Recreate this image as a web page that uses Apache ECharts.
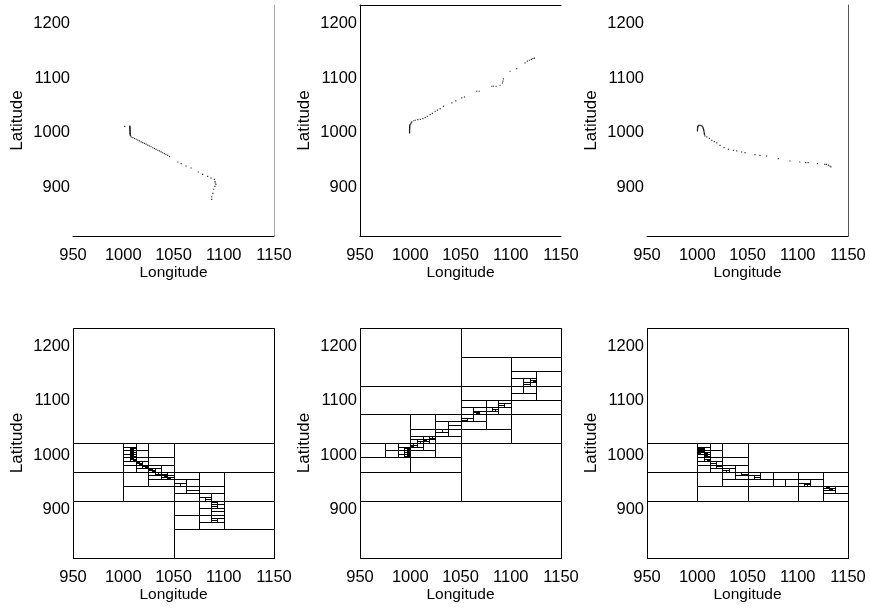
<!DOCTYPE html>
<html>
<head>
<meta charset="utf-8">
<script src="https://cdn.jsdelivr.net/npm/echarts@6/dist/echarts.min.js"></script>
<style>
  html, body { margin: 0; padding: 0; background: #fff; }
  #chart { width: 870px; height: 608px; }
</style>
</head>
<body>
<div id="chart"></div>
<script>
// Axis extents and tick labels
const lonRange = [950, 1150];
const latRange = [811.7, 1233.3];
const lonTicks = [950, 1000, 1050, 1100, 1150];
const latTicks = [900, 1000, 1100, 1200];

// Trajectory A: idles near the start, heads south-east, ends with a southward leg
const trackA = [
  [1001.5, 1011.9], [1006.5, 1012.5], [1006.5, 1011.5], [1006.6, 1010.5], [1006.6, 1009.5],
  [1006.6, 1008.5], [1006.6, 1007.5], [1006.7, 1006.5], [1006.7, 1005.5], [1006.7, 1004.5],
  [1006.7, 1003.5], [1006.8, 1002.5], [1006.8, 1001.5], [1006.8, 1000.5], [1006.8, 999.5],
  [1006.9, 998.5], [1006.9, 997.5], [1007.0, 996.5], [1007.0, 995.5], [1007.4, 994.2],
  [1008.0, 992.4], [1009.6, 991.2], [1011.2, 989.7], [1012.9, 988.3], [1014.5, 986.8],
  [1016.1, 985.4], [1017.8, 983.6], [1019.4, 982.1], [1021.1, 980.6], [1022.7, 979.3],
  [1024.4, 977.5], [1026.0, 976.0], [1027.7, 974.6], [1029.3, 972.8], [1031.0, 971.4],
  [1032.6, 969.9], [1034.3, 968.2], [1035.9, 966.9], [1037.6, 965.3], [1039.2, 963.6],
  [1040.9, 962.2], [1042.5, 960.5], [1044.2, 959.0], [1046.0, 956.8], [1054.3, 946.8],
  [1057.6, 943.7], [1062.5, 939.5], [1067.5, 935.8], [1074.7, 928.5], [1079.0, 924.2],
  [1084.0, 920.6], [1087.3, 917.5], [1090.6, 915.0], [1091.3, 911.0], [1091.6, 908.4],
  [1092.2, 906.0], [1091.2, 902.3], [1090.0, 897.0], [1089.2, 889.5], [1088.0, 883.0],
  [1088.0, 878.6]
];

// Trajectory B: heads north-east
const trackB = [
  [999.3, 999.8], [999.3, 1001.0], [999.3, 1002.2], [999.3, 1003.5], [999.3, 1004.8],
  [999.3, 1006.0], [999.4, 1007.2], [999.4, 1008.5], [999.4, 1009.8], [999.4, 1011.0],
  [999.5, 1012.3], [999.5, 1013.5], [999.8, 1015.0], [1000.5, 1016.5], [1001.0, 1018.2],
  [1001.6, 1019.9], [1003.5, 1022.0], [1005.0, 1023.0], [1007.5, 1024.0], [1010.0, 1024.7],
  [1012.5, 1026.0], [1014.9, 1027.8], [1017.0, 1030.0], [1019.8, 1033.2], [1022.0, 1035.5],
  [1024.8, 1039.3], [1027.0, 1041.5], [1029.8, 1044.2], [1033.0, 1048.5], [1041.4, 1054.6],
  [1045.3, 1058.2], [1051.3, 1063.7], [1054.0, 1065.5], [1066.2, 1075.9], [1068.5, 1075.9],
  [1081.1, 1085.0], [1082.7, 1085.0], [1085.4, 1085.0], [1089.4, 1086.8], [1091.7, 1091.0],
  [1092.2, 1094.5], [1092.7, 1098.4], [1099.3, 1112.4], [1106.0, 1117.3], [1114.2, 1127.6],
  [1116.5, 1130.7], [1118.5, 1132.5], [1120.5, 1134.0], [1122.0, 1135.5], [1123.5, 1136.5]
];

// Trajectory C: small hook, then heads east
const trackC = [
  [1000.2, 1003.4], [1000.2, 1004.7], [1000.2, 1006.0], [1000.3, 1007.5], [1000.3, 1009.0],
  [1000.5, 1010.3], [1000.6, 1011.5], [1001.0, 1012.6], [1001.5, 1013.5], [1002.5, 1013.8],
  [1003.5, 1013.5], [1004.4, 1012.8], [1005.0, 1012.0], [1005.5, 1010.5], [1005.8, 1009.0],
  [1006.1, 1007.5], [1006.3, 1006.0], [1006.5, 1004.5], [1006.6, 1003.0], [1006.8, 1001.5],
  [1007.0, 1000.0], [1007.1, 998.5], [1007.2, 997.0], [1007.5, 994.5], [1009.5, 992.5],
  [1012.0, 990.0], [1014.5, 986.4], [1017.0, 984.0], [1019.4, 981.5], [1022.7, 977.2],
  [1026.7, 973.0], [1031.0, 970.0], [1036.0, 968.0], [1039.3, 966.9], [1044.2, 965.0],
  [1047.5, 963.8], [1057.4, 960.2], [1062.4, 958.9], [1069.0, 957.7], [1080.6, 953.0],
  [1092.2, 948.6], [1102.0, 946.8], [1108.0, 945.6], [1110.3, 945.6], [1119.6, 943.7],
  [1126.9, 942.5], [1128.5, 942.5], [1130.5, 941.0], [1132.0, 939.5], [1133.0, 938.0]
];

const tracks = [trackA, trackB, trackC];

// Midpoint k-d partition: a cell holding more than one fix is halved
// across its longer side; every visited cell is outlined.
const MAX_DEPTH = 16;
function partition(points, x0, x1, y0, y1, depth, out) {
  out.push([x0, y0, x1, y1]);
  if (points.length <= 1 || depth >= MAX_DEPTH) return;
  if (x1 - x0 >= y1 - y0) {
    const xm = (x0 + x1) / 2;
    partition(points.filter(p => p[0] < xm), x0, xm, y0, y1, depth + 1, out);
    partition(points.filter(p => p[0] >= xm), xm, x1, y0, y1, depth + 1, out);
  } else {
    const ym = (y0 + y1) / 2;
    partition(points.filter(p => p[1] < ym), x0, x1, y0, ym, depth + 1, out);
    partition(points.filter(p => p[1] >= ym), x0, x1, ym, y1, depth + 1, out);
  }
}
function cellsFor(track) {
  const out = [];
  partition(track, lonRange[0], lonRange[1], latRange[0], latRange[1], 0, out);
  return out;
}

const FONT = 'Liberation Sans, Arial, sans-serif';
const colLeft = [73, 360, 647];
const rowTop = [5, 328];
const panelW = 201;
const panelH = [231, 230];
const plain = v => String(v);

const grids = [], xAxes = [], yAxes = [], series = [];
// Extra edge lines of the upper panels
const upperEdges = [
  { right: '#a8a8a8', top: null, left: null },
  { right: null, top: '#000', left: '#000' },
  { right: '#555', top: null, left: null }
];

function crisp(v) { return Math.round(v) + 0.5; }

for (let row = 0; row < 2; row++) {
  for (let col = 0; col < 3; col++) {
    const g = grids.length;
    grids.push({ left: colLeft[col], top: rowTop[row], width: panelW, height: panelH[row] });
    xAxes.push({
      gridIndex: g, type: 'value', min: lonRange[0], max: lonRange[1], interval: 50,
      name: 'Longitude', nameLocation: 'middle', nameGap: 28,
      nameTextStyle: { fontFamily: FONT, fontSize: 15.5, color: '#000' },
      axisLine: { show: row === 0, lineStyle: { color: '#000', width: 1 } },
      axisTick: { show: false }, splitLine: { show: false },
      axisLabel: { fontFamily: FONT, fontSize: 16.5, color: '#000', margin: 11, formatter: plain }
    });
    yAxes.push({
      gridIndex: g, type: 'value', min: latRange[0], max: latRange[1],
      name: 'Latitude', nameLocation: 'middle', nameGap: 47, nameRotate: 90,
      nameTextStyle: { fontFamily: FONT, fontSize: 17, color: '#000' },
      axisLine: { show: row === 0 && !!upperEdges[col].left, lineStyle: { color: '#000', width: 1 } },
      axisTick: { show: false }, splitLine: { show: false },
      axisLabel: { fontFamily: FONT, fontSize: 16.5, color: '#000', margin: 3,
                   customValues: latTicks, formatter: plain }
    });
  }
}

// Edge lines on the upper panels drawn as label-less secondary axes
for (let col = 0; col < 3; col++) {
  const e = upperEdges[col];
  if (e.right) {
    yAxes.push({
      gridIndex: col, type: 'value', position: 'right', min: latRange[0], max: latRange[1],
      axisLine: { show: true, lineStyle: { color: e.right, width: 1 } },
      axisTick: { show: false }, axisLabel: { show: false }, splitLine: { show: false }
    });
  }
  if (e.top) {
    xAxes.push({
      gridIndex: col, type: 'value', position: 'top', min: lonRange[0], max: lonRange[1],
      axisLine: { show: true, lineStyle: { color: e.top, width: 1 } },
      axisTick: { show: false }, axisLabel: { show: false }, splitLine: { show: false }
    });
  }
}

// Upper row: raw position fixes
tracks.forEach((track, i) => {
  series.push({
    type: 'scatter', xAxisIndex: i, yAxisIndex: i, data: track,
    symbol: 'rect', symbolSize: 1.2, itemStyle: { color: '#000' },
    silent: true, animation: false
  });
});

// Lower row: partition cells of each trajectory
tracks.forEach((track, i) => {
  const g = i + 3;
  series.push({
    type: 'custom', xAxisIndex: g, yAxisIndex: g, data: cellsFor(track),
    silent: true, animation: false, progressive: 0, clip: false,
    renderItem: function (params, api) {
      const a = api.coord([api.value(0), api.value(3)]);
      const b = api.coord([api.value(2), api.value(1)]);
      const x = crisp(a[0]), y = crisp(a[1]);
      return {
        type: 'rect',
        shape: { x: x, y: y, width: crisp(b[0]) - x, height: crisp(b[1]) - y },
        style: { fill: null, stroke: '#000', lineWidth: 1 }
      };
    }
  });
});

const chart = echarts.init(document.getElementById('chart'), null, { renderer: 'canvas' });
chart.setOption({
  animation: false,
  backgroundColor: '#fff',
  textStyle: { fontFamily: FONT },
  grid: grids, xAxis: xAxes, yAxis: yAxes, series: series
});
</script>
</body>
</html>
